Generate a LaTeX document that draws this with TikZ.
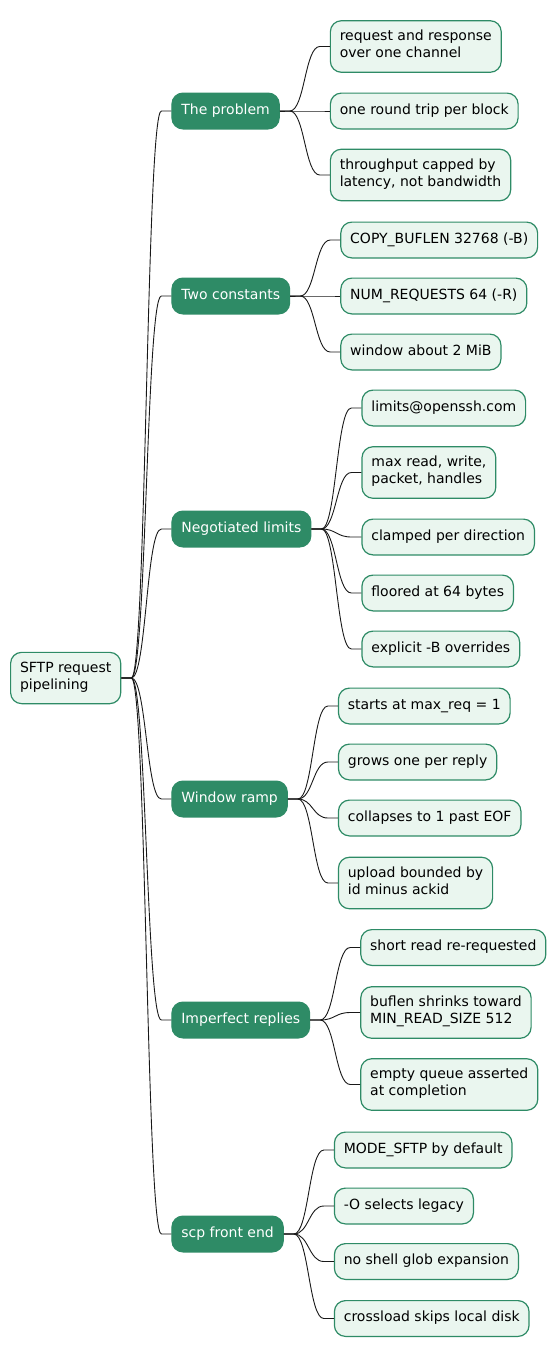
\documentclass[tikz,border=0pt]{standalone}
\usepackage{fontspec}
\setmainfont{DejaVu Sans}
\usetikzlibrary{positioning}
\definecolor{mmgreen}{HTML}{2E8B66}
\definecolor{mmleaf}{HTML}{EAF6EF}
\tikzset{
	mmbox/.style={rounded corners=11pt, inner xsep=9.4pt, inner ysep=9.4pt, align=left, line width=1.2pt,
		font=\fontsize{14}{17}\selectfont, execute at begin node=\strut, execute at end node=\strut},
	leaf/.style={mmbox, draw=mmgreen, fill=mmleaf, text=black, anchor=west},
	topic/.style={mmbox, draw=mmgreen, fill=mmgreen, text=white, anchor=west},
	branch/.style={draw=black!90, line width=0.9pt},
}
\begin{document}
\begin{tikzpicture}[x=1pt, y=-1pt]
	\useasboundingbox (0,0) rectangle (559,1357);
	
	\node[leaf] (root) at (10,678) {SFTP request\\pipelining};
	\path (root.east) ++(50,0) coordinate (c0);
	
	\node[topic] (prob) at (c0 |- 0,111) {The problem};
	\node[topic] (consts) at (c0 |- 0,296) {Two constants};
	\node[topic] (neg) at (c0 |- 0,529) {Negotiated limits};
	\node[topic] (ramp) at (c0 |- 0,799) {Window ramp};
	\node[topic] (reply) at (c0 |- 0,1020) {Imperfect replies};
	\node[topic] (scp) at (c0 |- 0,1234) {scp front end};
	
	% the problem
	\path (prob.east) ++(50,0) coordinate (c1);
	\node[leaf] (prob1) at (c1 |- 0,46.5) {request and response\\over one channel};
	\node[leaf] (prob2) at (c1 |- 0,111) {one round trip per block};
	\node[leaf] (prob3) at (c1 |- 0,175) {throughput capped by\\latency, not bandwidth};
	
	% two constants
	\path (consts.east) ++(50,0) coordinate (c2);
	\node[leaf] (consts1) at (c2 |- 0,240) {COPY\_BUFLEN 32768 (-B)};
	\node[leaf] (consts2) at (c2 |- 0,296) {NUM\_REQUESTS 64 (-R)};
	\node[leaf] (consts3) at (c2 |- 0,352) {window about 2 MiB};
	
	% negotiated limits
	\path (neg.east) ++(50,0) coordinate (c3);
	\node[leaf] (neg1) at (c3 |- 0,408) {limits@openssh.com};
	\node[leaf] (neg2) at (c3 |- 0,472.5) {max read, write,\\packet, handles};
	\node[leaf] (neg3) at (c3 |- 0,537) {clamped per direction};
	\node[leaf] (neg4) at (c3 |- 0,593) {floored at 64 bytes};
	\node[leaf] (neg5) at (c3 |- 0,649) {explicit -B overrides};
	
	% window ramp
	\path (ramp.east) ++(50,0) coordinate (c4);
	\node[leaf] (ramp1) at (c4 |- 0,706) {starts at max\_req = 1};
	\node[leaf] (ramp2) at (c4 |- 0,762) {grows one per reply};
	\node[leaf] (ramp3) at (c4 |- 0,818) {collapses to 1 past EOF};
	\node[leaf] (ramp4) at (c4 |- 0,883) {upload bounded by\\id minus ackid};
	
	% imperfect replies
	\path (reply.east) ++(50,0) coordinate (c5);
	\node[leaf] (reply1) at (c5 |- 0,947.5) {short read re-requested};
	\node[leaf] (reply2) at (c5 |- 0,1012.5) {buflen shrinks toward\\MIN\_READ\_SIZE 512};
	\node[leaf] (reply3) at (c5 |- 0,1084.5) {empty queue asserted\\at completion};
	
	% scp front end
	\path (scp.east) ++(50,0) coordinate (c6);
	\node[leaf] (scp1) at (c6 |- 0,1150) {MODE\_SFTP by default};
	\node[leaf] (scp2) at (c6 |- 0,1206) {-O selects legacy};
	\node[leaf] (scp3) at (c6 |- 0,1261.5) {no shell glob expansion};
	\node[leaf] (scp4) at (c6 |- 0,1318.5) {crossload skips local disk};
	
	\foreach \s/\t in {root/prob, root/consts, root/neg, root/ramp, root/reply, root/scp} {
		\draw[branch] (\s.east) -- ++(10,0) .. controls +(15,0) and +(-15,0) .. ([xshift=-10pt]\t.west) -- (\t.west);
	}
	\foreach \s/\t in {prob/prob1, prob/prob2, prob/prob3, consts/consts1, consts/consts2, consts/consts3,
		neg/neg1, neg/neg2, neg/neg3, neg/neg4, neg/neg5, ramp/ramp1, ramp/ramp2, ramp/ramp3, ramp/ramp4,
		reply/reply1, reply/reply2, reply/reply3, scp/scp1, scp/scp2, scp/scp3, scp/scp4} {
		\draw[branch] (\s.east) -- ++(10,0) .. controls +(15,0) and +(-15,0) .. ([xshift=-10pt]\t.west) -- (\t.west);
	}
	
\end{tikzpicture}
\end{document}
